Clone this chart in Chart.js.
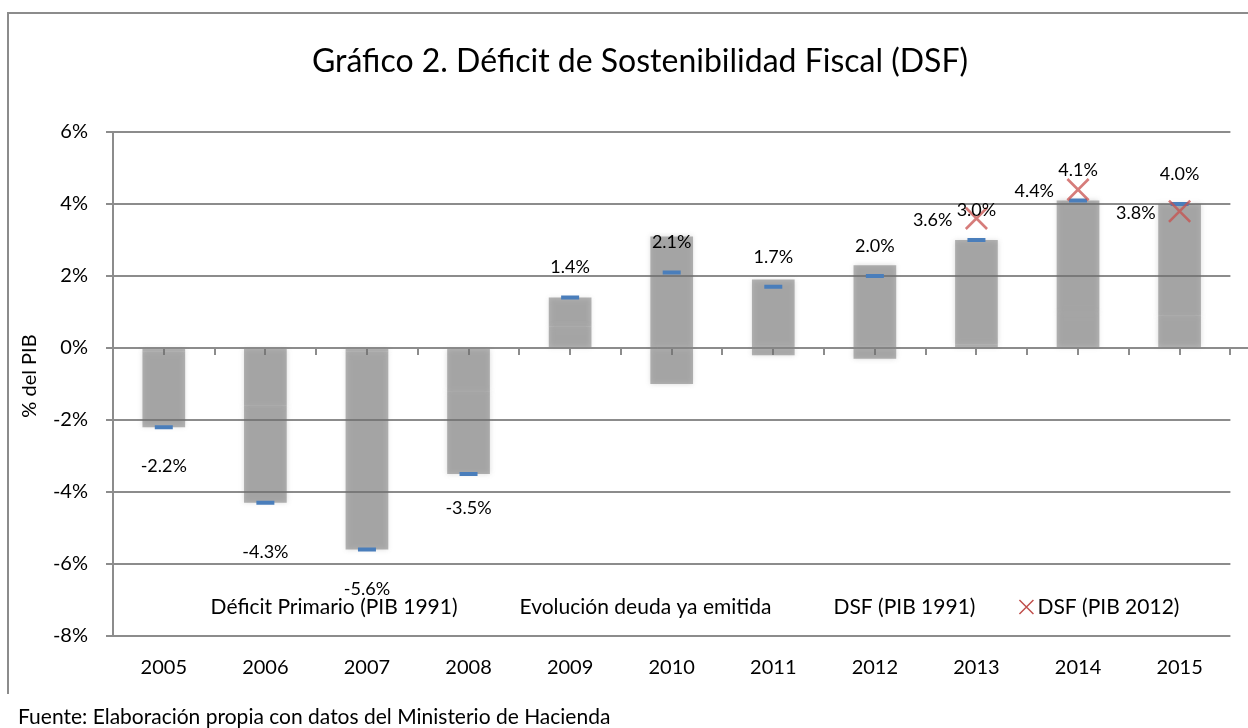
<!DOCTYPE html>
<html lang="es">
<head>
<meta charset="utf-8">
<title>Déficit de Sostenibilidad Fiscal</title>
<script src="https://cdn.jsdelivr.net/npm/chart.js@4.4.1/dist/chart.umd.min.js"></script>
<style>
  html, body { margin: 0; padding: 0; background: #fff; }
  #wrap { width: 1248px; height: 728px; }
</style>
</head>
<body>
<div id="wrap"><canvas id="myChart" width="1248" height="728"></canvas></div>
<script>
const years = ["2005", "2006", "2007", "2008", "2009", "2010", "2011", "2012", "2013", "2014", "2015"];
// stacked components (% del PIB)
const deficitPrimario = [-0.1, -1.6, -0.1, -1.2, 0.6, -1.0, -0.2, -0.3, 0.1, 1.0, 0.9];
const deudaEmitida = [-2.1, -2.7, -5.5, -2.3, 0.8, 3.1, 1.9, 2.3, 2.9, 3.1, 3.1];
// DSF totals
const dsf1991 = [-2.2, -4.3, -5.6, -3.5, 1.4, 2.1, 1.7, 2.0, 3.0, 4.1, 4.0];
const dsf2012 = [null, null, null, null, null, null, null, null, 3.6, 4.4, 3.8];
const yTicks = [-8, -6, -4, -2, 0, 2, 4, 6];

const seriesNames = ["Déficit Primario (PIB 1991)", "Evolución deuda ya emitida", "DSF (PIB 1991)", "DSF (PIB 2012)"];
const titleText = "Gráfico 2. Déficit de Sostenibilidad Fiscal (DSF)";
const sourceText = "Fuente: Elaboración propia con datos del Ministerio de Hacienda";

const FONT = "Lato";
const GRID = "#8c8c8c";
const BAR = 'rgba(110,110,110,0.5)';
const pct = v => v.toFixed(1) + "%";

const data = {
    labels: years,
    datasets: [
        { type: 'bar', label: seriesNames[0], data: deficitPrimario, stack: 'dsf',
          backgroundColor: BAR, barPercentage: 0.42, categoryPercentage: 1, order: 3 },
        { type: 'bar', label: seriesNames[1], data: deudaEmitida, stack: 'dsf',
          backgroundColor: BAR, barPercentage: 0.42, categoryPercentage: 1, order: 3 },
        { type: 'line', label: seriesNames[2], data: dsf1991, stack: 'p91', showLine: false,
          pointStyle: 'line', pointRadius: 9, pointBorderWidth: 4, borderColor: '#4a7ebb',
          backgroundColor: '#4a7ebb', order: 2 },
        { type: 'line', label: seriesNames[3], data: dsf2012, stack: 'p12', showLine: false,
          pointStyle: 'crossRot', pointRadius: 15, pointBorderWidth: 2.6, borderColor: 'rgba(200,80,77,0.75)',
          backgroundColor: 'rgba(200,80,77,0.75)', order: 1 }
    ]
};

// frame, zero axis, soft bars, value labels, title, legend and source line
const decorations = {
    id: 'decorations',
    beforeDraw(chart) {
        const ctx = chart.ctx;
        ctx.save();
        ctx.fillStyle = '#fff';
        ctx.fillRect(0, 0, chart.width, chart.height);
        ctx.strokeStyle = GRID;
        ctx.lineWidth = 2;
        ctx.beginPath();
        ctx.moveTo(8, 694);
        ctx.lineTo(8, 13);
        ctx.lineTo(chart.width, 13);
        ctx.stroke();
        ctx.restore();
    },
    beforeDatasetsDraw(chart) {
        const { ctx, chartArea, scales: { x, y } } = chart;
        const y0 = Math.round(y.getPixelForValue(0));
        const half = (x.getPixelForValue(1) - x.getPixelForValue(0)) / 2;
        ctx.save();
        ctx.strokeStyle = GRID;
        ctx.lineWidth = 2;
        ctx.beginPath();
        ctx.moveTo(chartArea.left, y0);
        ctx.lineTo(chart.width, y0);
        years.forEach((_, i) => {
            const c = x.getPixelForValue(i);
            [c, c + half].forEach(px => {
                ctx.moveTo(Math.round(px), y0);
                ctx.lineTo(Math.round(px), y0 + 7);
            });
        });
        ctx.stroke();
        ctx.restore();
    },
    // soft edges on the grey columns
    beforeDatasetDraw(chart, args) {
        if (args.meta.type === 'bar') {
            const ctx = chart.ctx;
            ctx.save();
            ctx.shadowColor = 'rgba(110,110,110,0.5)';
            ctx.shadowBlur = 5;
        }
    },
    afterDatasetDraw(chart, args) {
        if (args.meta.type === 'bar') chart.ctx.restore();
    },
    afterDatasetsDraw(chart, args, opts) {
        const { ctx, scales: { x, y } } = chart;
        ctx.save();
        ctx.fillStyle = '#000';
        ctx.font = `18px ${FONT}`;
        ctx.textBaseline = 'middle';
        ctx.textAlign = 'center';
        let neg = 0;
        dsf1991.forEach((v, i) => {
            const dy = v < 0 ? opts.belowOffsets[neg++] : -30;
            ctx.fillText(pct(v), x.getPixelForValue(i), y.getPixelForValue(v) + dy);
        });
        ctx.textAlign = 'right';
        dsf2012.forEach((v, i) => {
            if (v === null) return;
            ctx.fillText(pct(v), x.getPixelForValue(i) - 24, y.getPixelForValue(v) + 2);
        });
        ctx.restore();
    },
    afterDraw(chart) {
        const ctx = chart.ctx;
        ctx.save();
        ctx.fillStyle = '#000';
        ctx.textBaseline = 'middle';

        ctx.font = `32px ${FONT}`;
        ctx.textAlign = 'center';
        ctx.fillText(titleText, 640, 62);

        ctx.font = `20px ${FONT}`;
        ctx.save();
        ctx.translate(30, 376);
        ctx.rotate(-Math.PI / 2);
        ctx.fillText("% del PIB", 0, 0);
        ctx.restore();

        // legend row inside the plot, above the -8% line
        ctx.font = `21px ${FONT}`;
        ctx.textAlign = 'left';
        const sym = 18, gap = 44, ly = 607;
        const widths = seriesNames.map(s => ctx.measureText(s).width);
        const total = widths.reduce((a, w) => a + sym + w, 0) + gap * (seriesNames.length - 1);
        let lx = 686 - total / 2;
        seriesNames.forEach((name, i) => {
            if (i === 3) {
                const cx = lx + sym / 2 - 2, r = 7;
                ctx.strokeStyle = '#c0504d';
                ctx.lineWidth = 1.5;
                ctx.beginPath();
                ctx.moveTo(cx - r, ly - r); ctx.lineTo(cx + r, ly + r);
                ctx.moveTo(cx + r, ly - r); ctx.lineTo(cx - r, ly + r);
                ctx.stroke();
            }
            ctx.fillText(name, lx + sym, ly);
            lx += sym + widths[i] + gap;
        });

        ctx.fillText(sourceText, 18, 717);
        ctx.restore();
    }
};

const config = {
    data: data,
    options: {
        responsive: false,
        animation: false,
        devicePixelRatio: 1,
        layout: { padding: { top: 132, right: 3, left: 0, bottom: 0 } },
        plugins: {
            legend: { display: false },
            title: { display: false },
            tooltip: { enabled: false },
            decorations: { belowOffsets: [39, 49, 40, 34] }
        },
        scales: {
            x: {
                grid: { display: false, drawTicks: false },
                border: { display: false },
                ticks: { color: '#000', font: { family: FONT, size: 20 }, padding: 20 },
                afterFit: s => { s.height = 92; }
            },
            y: {
                stacked: true,
                min: -8,
                max: 6,
                afterBuildTicks: s => { s.ticks = yTicks.map(v => ({ value: v })); },
                grid: { color: GRID, lineWidth: 2, tickLength: 7 },
                border: { color: GRID, width: 2 },
                ticks: { color: '#000', font: { family: FONT, size: 20 }, padding: 18,
                         callback: v => v + '%' },
                afterFit: s => { s.width = 113; }
            }
        }
    },
    plugins: [decorations]
};

document.fonts.load(`20px ${FONT}`).finally(() => {
    const ctx = document.getElementById("myChart").getContext('2d');
    new Chart(ctx, config);
});
</script>
</body>
</html>
